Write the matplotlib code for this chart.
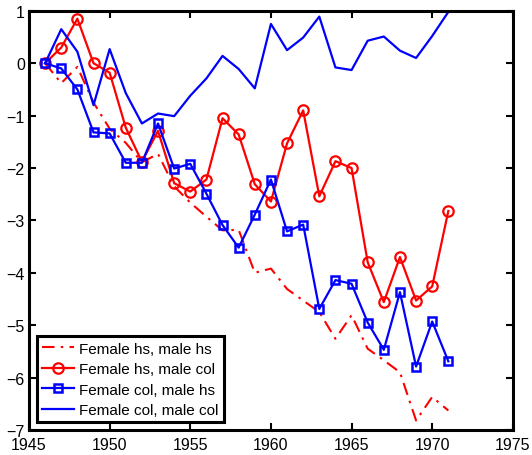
"""
Wage-gap trajectories by couple education type, 1946-1971.
"""

import matplotlib
matplotlib.use("Agg")
import matplotlib.pyplot as plt

plt.rcParams['font.family'] = ['Liberation Sans', 'DejaVu Sans']

# Data
YEARS = list(range(1946, 1972))

HS_HS = [0.0, -0.38, -0.07, -0.75, -1.25, -1.52, -1.89, -1.73, -2.35, -2.66,
         -2.93, -3.19, -3.18, -4.0, -3.92, -4.31, -4.53, -4.75, -5.26, -4.81,
         -5.45, -5.67, -5.9, -6.82, -6.37, -6.63]

HS_COL = [0.0, 0.3, 0.85, 0.0, -0.18, -1.23, -1.88, -1.29, -2.29, -2.45,
          -2.22, -1.05, -1.36, -2.31, -2.64, -1.53, -0.9, -2.54, -1.87, -2.0,
          -3.8, -4.56, -3.7, -4.53, -4.26, -2.82]

COL_HS = [0.0, -0.1, -0.5, -1.32, -1.34, -1.9, -1.9, -1.15, -2.01, -1.92,
          -2.49, -3.09, -3.52, -2.89, -2.22, -3.21, -3.08, -4.69, -4.14, -4.21,
          -4.95, -5.47, -4.37, -5.79, -4.93, -5.69]

COL_COL = [0.0, 0.65, 0.22, -0.8, 0.27, -0.57, -1.15, -0.96, -1.01, -0.62,
           -0.29, 0.14, -0.11, -0.48, 0.75, 0.25, 0.49, 0.89, -0.08, -0.13,
           0.43, 0.51, 0.24, 0.1, 0.52, 0.98]

LABELS = ['Female hs, male hs', 'Female hs, male col',
          'Female col, male hs', 'Female col, male col']


def main():
    fig = plt.figure(figsize=(5.32, 4.56), dpi=100)
    ax = fig.add_axes([0.0545, 0.055, 0.9095, 0.919])

    ax.plot(YEARS, HS_HS, color='red', linewidth=1.5,
            linestyle=(0, (6, 3, 1.2, 3)), label=LABELS[0])
    ax.plot(YEARS, HS_COL, color='red', linewidth=1.6, marker='o',
            markersize=7.5, markerfacecolor='none', markeredgewidth=1.6,
            label=LABELS[1])
    ax.plot(YEARS, COL_HS, color='blue', linewidth=1.6, marker='s',
            markersize=5.5, markerfacecolor='none', markeredgewidth=1.8,
            label=LABELS[2])
    ax.plot(YEARS, COL_COL, color='blue', linewidth=1.6, label=LABELS[3])

    ax.set_xlim(1945, 1975)
    ax.set_ylim(-7, 1)
    ax.set_xticks(range(1945, 1976, 5))
    ax.set_yticks(range(-7, 2))

    ax.tick_params(direction='in', length=5, width=1.5, labelsize=11.5,
                   top=True, right=True, pad=3)
    ax.tick_params(axis='x', pad=5)
    for spine in ax.spines.values():
        spine.set_linewidth(2.2)

    leg = ax.legend(loc='lower left', fontsize=11, fancybox=False,
                    framealpha=1, edgecolor='black', handlelength=2.1,
                    borderaxespad=0.5, labelspacing=0.42, handletextpad=0.35,
                    borderpad=0.35)
    leg.get_frame().set_linewidth(2.2)

    plt.savefig('out.png', dpi=100)
    plt.close()


if __name__ == "__main__":
    main()
